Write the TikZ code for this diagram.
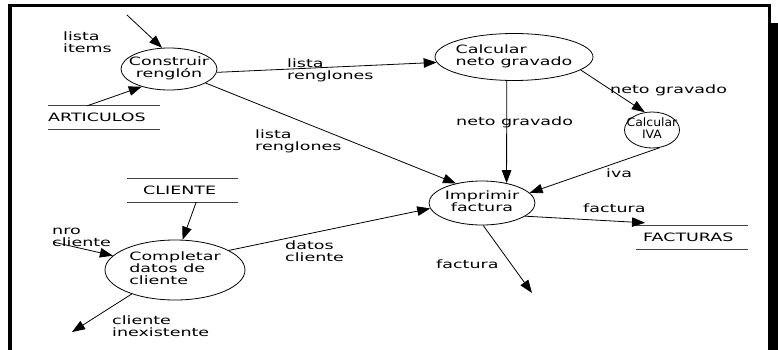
\documentclass[tikz,border=0pt]{standalone}
\usepackage{fontspec}
\setmainfont{DejaVu Sans}[FakeStretch=1.52]
\newfontfamily\ivafont{DejaVu Sans}[FakeStretch=1.08]
\usetikzlibrary{shapes.geometric,arrows.meta}
\newcommand\ctext[1]{\makebox[0pt]{\begin{tabular}{@{}c@{}}#1\end{tabular}}}
\newcommand\ltext[1]{\makebox[0pt]{\begin{tabular}{@{}l@{}}#1\end{tabular}}}
\begin{document}
\begin{tikzpicture}[x=1pt,y=-1pt,
  every node/.style={font=\fontsize{11.5}{12}\selectfont},
  proc/.style={ellipse, draw, line width=0.8pt, inner sep=0pt},
  store/.style={anchor=west, align=left, inner sep=0pt, minimum height=23pt},
  storeline/.style={line width=0.8pt, draw=black!75},
  lbl/.style={anchor=west, align=left, inner sep=0pt},
  flow/.style={line width=0.8pt, -{Triangle[length=13pt,width=9.5pt]}}]
\useasboundingbox (0,0) rectangle (778,350);
% frame
\fill (8,4) rectangle (771,7.5);
\fill (8,4) rectangle (11.5,350);
\fill (768,4) rectangle (771,24);
\fill (768,23) rectangle (778,350);
% processes
\node[proc, minimum width=96pt, minimum height=42pt] (cons) at (169,69) {\ctext{Construir\\renglón}};
\node[proc, minimum width=158pt, minimum height=47pt] (neto) at (514,57) {\ltext{Calcular\\neto gravado}};
\node[proc, minimum width=55pt, minimum height=36pt] (iva) at (652,130) {\ivafont\ctext{Calcular\\IVA}};
\node[proc, minimum width=106pt, minimum height=44pt] (impr) at (482,203) {\ctext{Imprimir\\factura}};
\node[proc, minimum width=140pt, minimum height=60pt] (comp) at (175,270) {\ltext{Completar\\datos de\\cliente}};
% stores
\node[store, text width=112pt] (art) at (48,117.5) {ARTICULOS};
\node[store, text width=111pt] (cli) at (127,190.5) {\hspace*{16pt}CLIENTE};
\node[store, text width=112pt] (fac) at (636,237.5) {\hspace*{7pt}FACTURAS};
\foreach \s in {art,cli,fac}{
  \draw[storeline] (\s.north west) -- (\s.north east) (\s.south west) -- (\s.south east);
}
% free ends
\coordinate (in1) at (127,15);
\coordinate (nro) at (53,242);
\coordinate (inex) at (72,332);
\coordinate (fout) at (532,293);
% labels
\node[lbl] (l1) at (63,42) {lista\\items};
\node[lbl] (l2) at (287,70) {lista\\renglones};
\node[lbl] (l3) at (255,141) {lista\\renglones};
\node[lbl] (l4) at (456,122) {neto gravado};
\node[lbl] (l5) at (610,90) {neto gravado};
\node[lbl] (l6) at (606,173) {iva};
\node[lbl] (l7) at (583,208) {factura};
\node[lbl] (l8) at (436,264) {factura};
\node[lbl] (l9) at (285,251) {datos\\cliente};
\node[lbl] (l10) at (52,237) {nro\\cliente};
\node[lbl] (l11) at (112,326) {cliente\\inexistente};
% flows
\draw[flow] (in1) -- (cons.108);
\draw[flow] ([xshift=-17pt]art.north) -- (cons.213);
\draw[flow] (cons.-4) -- (neto.184);
\draw[flow] (cons.-21) -- (impr.143);
\draw[flow] (neto.253) -- (impr.39);
\draw[flow] (neto.-11) -- (iva.112);
\draw[flow] (iva.-66) -- (impr.12);
\draw[flow] (impr.-17) -- ([xshift=9pt,yshift=3pt]fac.north west);
\draw[flow] (impr.-87) -- (fout);
\draw[flow] ([xshift=13.5pt]cli.south) -- (comp.76);
\draw[flow] (nro) -- (comp.167);
\draw[flow] (comp.209) -- (inex);
\draw[flow] (comp.20) -- (impr.186);
\end{tikzpicture}
\end{document}
